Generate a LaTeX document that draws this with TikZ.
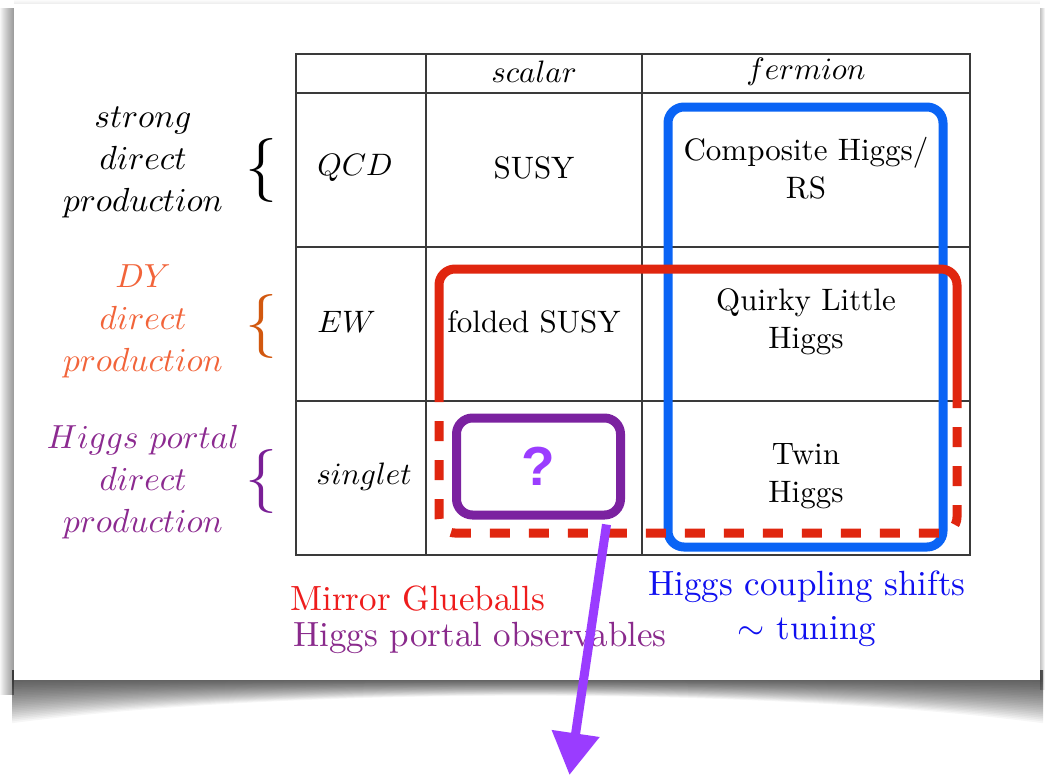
\RequirePackage{fix-cm}
\documentclass[tikz,border=0pt]{standalone}
\usepackage{fontspec}
\usepackage{graphicx}
\usetikzlibrary{arrows.meta}
\setmainfont{lmroman10-regular.otf}
\newfontfamily\qfont{Liberation Sans}
% one design size for the math italic letters at every size
\DeclareFontShape{OML}{cmm}{m}{it}{<->cmmi10}{}

\definecolor{gridc}{HTML}{3A3A3A}
\definecolor{redbox}{HTML}{E0260F}
\definecolor{bluebox}{HTML}{0A64F5}
\definecolor{purplebox}{HTML}{7B22A0}
\definecolor{qmark}{HTML}{9B3DFF}
\definecolor{arrowc}{HTML}{9A3CFF}
\definecolor{dytext}{HTML}{F2643A}
\definecolor{dybrace}{HTML}{D2580F}
\definecolor{hptext}{HTML}{8C2A90}
\definecolor{hpbrace}{HTML}{7A1F96}
\definecolor{mirror}{HTML}{EE1C1C}
\definecolor{hpobs}{HTML}{8A2A8C}
\definecolor{coup}{HTML}{1010F0}

\tikzset{
  grid/.style={draw=gridc, line width=0.6pt},
  cell/.style={inner sep=0pt, align=center, font=\fontsize{15.5}{19}\selectfont},
  side/.style={inner sep=0pt, align=center, font=\fontsize{16.7}{21}\selectfont},
  bracenode/.style={inner sep=0pt},
  note/.style={inner sep=0pt, font=\fontsize{17.5}{21}\selectfont},
  thick box/.style={line width=4.5pt, rounded corners=8pt},
}
\newcommand{\bigbrace}{\resizebox*{!}{32pt}{$\{$}}

\begin{document}
\begin{tikzpicture}[x=0.5pt, y=-0.5pt]
\useasboundingbox (0,0) rectangle (1045,777);
\fill[white] (0,0) rectangle (1045,777);

% soft shadow round the sheet: curled bottom edge
\foreach \k in {1,...,25}{
  \pgfmathsetmacro{\dd}{45-1.8*\k}
  \fill[black, opacity=0.035]
    (12,670) -- (1043,670) -- (1043,{680+\dd})
    .. controls (760,{680+0.15*\dd}) and (290,{680+0.15*\dd}) .. (12,{680+\dd}) -- cycle;
}
% left, right and top edges
\foreach \k in {0,...,13}
  \fill[black, opacity=0.03] (\k,8) rectangle (14,695);
\foreach \k in {0,...,4}
  \fill[black, opacity=0.05] (1040,8) rectangle ({1045-\k},690);
\foreach \k in {0,...,3}
  \fill[black, opacity=0.015] (14,\k) rectangle (1040,4);

% the sheet
\fill[white] (14,4) rectangle (1040,680);

% table grid
\draw[grid] (296,54) rectangle (970,555);
\foreach \yy in {93,247,401} \draw[grid] (296,\yy) -- (970,\yy);
\foreach \xx in {426,642} \draw[grid] (\xx,54) -- (\xx,555);

% header and row labels
\node[cell] (hsc) at (534,72) {$scalar$};
\node[cell] (hfe) at (806,72) {$fermion$};
\node[cell, anchor=west] (rq) at (317,168) {$QCD$};
\node[cell, anchor=west] (re) at (317,322) {$EW$};
\node[cell, anchor=west] (rs) at (316,477) {$singlet$};

% cell entries
\node[cell] (c11) at (534,168) {SUSY};
\node[cell] (c12) at (806,168) {Composite Higgs/\\RS};
\node[cell] (c21) at (534,322) {folded SUSY};
\node[cell] (c22) at (806,322) {Quirky Little\\Higgs};
\node[cell] (c32) at (806,476) {Twin\\Higgs};

% production modes on the left
\node[side] (ls) at (143,162) {$strong$\\$direct$\\$production$};
\node[side, text=dytext] (ld) at (143,321) {$DY$\\$direct$\\$production$};
\node[side, text=hptext] (lh) at (143,482) {$Higgs\ portal$\\$direct$\\$production$};

\node[bracenode] (bs) at (261,170) {\bigbrace};
\node[bracenode, text=dybrace] (bd) at (261,326) {\bigbrace};
\node[bracenode, text=hpbrace] (bh) at (261,481) {\bigbrace};

% captions below the table
\node[note, text=mirror, anchor=base west] (mg) at (290,610) {Mirror Glueballs};
\node[note, text=hpobs, anchor=base west] (hpo) at (293,646) {Higgs portal observables};
\node[note, text=coup, anchor=base] (hcs) at (807,595) {Higgs coupling shifts};
\node[note, text=coup, anchor=base] (tun) at (807,639) {$\sim$ tuning};

% fermionic top partners
\draw[bluebox, thick box] (668,107) rectangle (943,547);

% electroweak charged partners: solid above, dashed below
\draw[redbox, thick box] (439,402) -- (439,269) -- (957,269) -- (957,402);
\draw[redbox, thick box, dash pattern=on 10pt off 9.5pt, dash phase=10pt]
  (439,402) -- (439,533) -- (957,533) -- (957,402);

% open question
\node[draw=purplebox, line width=4.5pt, rounded corners=8pt, inner sep=0pt,
      minimum width=82pt, minimum height=48.5pt, text=qmark,
      font=\qfont\bfseries\fontsize{27.5}{30}\selectfont] (pq) at (538.5,466.5) {?};

\coordinate (tip) at (569.5,775);
\draw[arrowc, line width=4.5pt, -{Triangle[length=21pt, width=23pt]}]
  ([xshift=34pt, yshift=-2.5pt]pq.south) -- (tip);
\end{tikzpicture}
\end{document}
